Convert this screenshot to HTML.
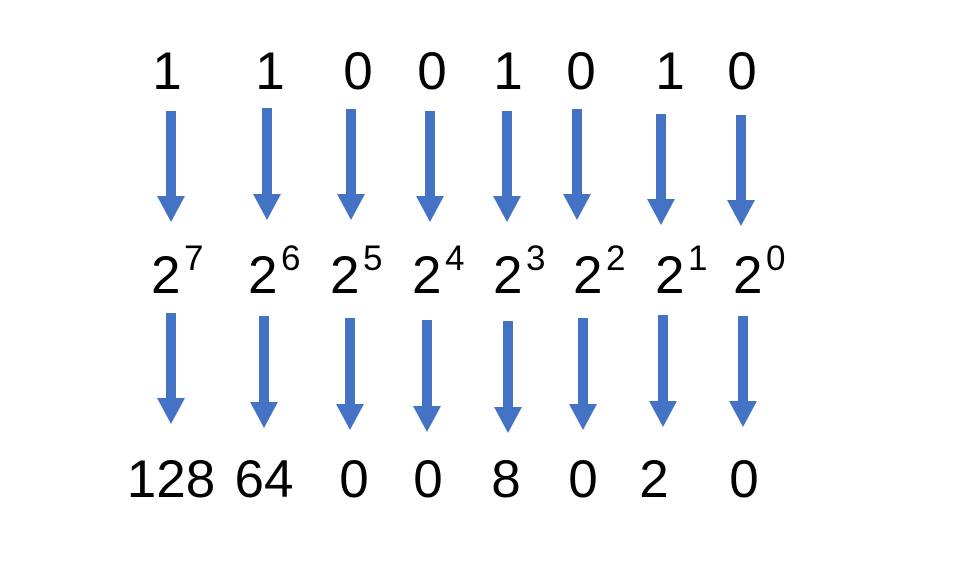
<!DOCTYPE html>
<html><head><meta charset="utf-8"><style>
html,body{margin:0;padding:0;background:#fff;width:953px;height:587px;overflow:hidden}
svg{display:block}
text{font-family:"Liberation Sans",sans-serif;fill:#000}
</style></head><body>
<svg width="953" height="587" viewBox="0 0 953 587" xmlns="http://www.w3.org/2000/svg">
<g font-size="53" text-anchor="middle">
<text x="167" y="89">1</text><text x="270" y="89">1</text><text x="358" y="89">0</text><text x="432" y="89">0</text>
<text x="508" y="89">1</text><text x="581" y="89">0</text><text x="670" y="89">1</text><text x="742" y="89">0</text>
<text x="171" y="497">128</text><text x="264" y="497">64</text><text x="354" y="497">0</text><text x="428" y="497">0</text>
<text x="506" y="497">8</text><text x="583" y="497">0</text><text x="654" y="497">2</text><text x="744" y="497">0</text>
</g>
<g>
<text x="151" y="293" font-size="53">2</text><text x="184" y="270" font-size="35">7</text>
<text x="248" y="293" font-size="53">2</text><text x="281" y="270" font-size="35">6</text>
<text x="330" y="293" font-size="53">2</text><text x="363" y="270" font-size="35">5</text>
<text x="412" y="293" font-size="53">2</text><text x="445" y="270" font-size="35">4</text>
<text x="493" y="293" font-size="53">2</text><text x="526" y="270" font-size="35">3</text>
<text x="573" y="293" font-size="53">2</text><text x="606" y="270" font-size="35">2</text>
<text x="655" y="293" font-size="53">2</text><text x="688" y="270" font-size="35">1</text>
<text x="733" y="293" font-size="53">2</text><text x="766" y="270" font-size="35">0</text>
</g>
<g fill="#4472c4">
<polygon points="166,111 176,111 176,196 185,196 171,222 157,196 166,196"/>
<polygon points="262,108 272,108 272,194 281,194 267,220 253,194 262,194"/>
<polygon points="346,109 356,109 356,194 365,194 351,220 337,194 346,194"/>
<polygon points="425,111 435,111 435,196 444,196 430,222 416,196 425,196"/>
<polygon points="502,111 512,111 512,196 521,196 507,222 493,196 502,196"/>
<polygon points="572,109 582,109 582,194 591,194 577,220 563,194 572,194"/>
<polygon points="656,114 666,114 666,199 675,199 661,225 647,199 656,199"/>
<polygon points="736,115 746,115 746,200 755,200 741,226 727,200 736,200"/>
<polygon points="166,313 176,313 176,398 185,398 171,424 157,398 166,398"/>
<polygon points="259,316 269,316 269,402 278,402 264,428 250,402 259,402"/>
<polygon points="345,318 355,318 355,404 364,404 350,430 336,404 345,404"/>
<polygon points="422,320 432,320 432,406 441,406 427,432 413,406 422,406"/>
<polygon points="503,321 513,321 513,407 522,407 508,433 494,407 503,407"/>
<polygon points="578,318 588,318 588,404 597,404 583,430 569,404 578,404"/>
<polygon points="658,315 668,315 668,401 677,401 663,427 649,401 658,401"/>
<polygon points="738,316 748,316 748,401 757,401 743,427 729,401 738,401"/>
</g>
</svg>
</body></html>
